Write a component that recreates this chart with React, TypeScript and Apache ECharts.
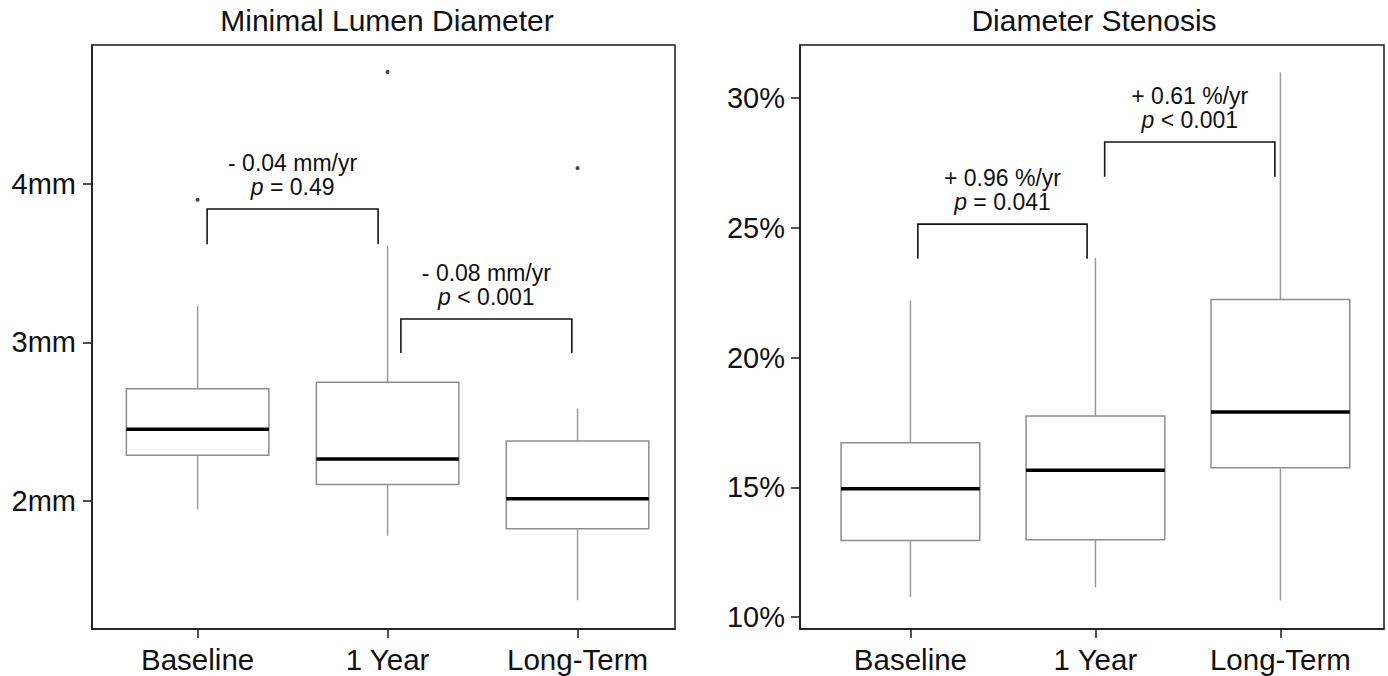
import React, { useEffect, useRef } from 'react';
import * as echarts from 'echarts';

const FONT = '"Liberation Sans", Arial, Helvetica, sans-serif';

const categories = ['Baseline', '1 Year', 'Long-Term'];
const categoryPositions = [1, 2, 3];

// Minimal Lumen Diameter (mm)
const mldLow = [1.946, 1.78, 1.373];
const mldQ1 = [2.289, 2.104, 1.824];
const mldMedian = [2.452, 2.265, 2.014];
const mldQ3 = [2.708, 2.749, 2.379];
const mldHigh = [3.23, 3.611, 2.583];
const mldOutlierX = [1, 2, 3];
const mldOutlierY = [3.9, 4.707, 4.1];
const mldTicks = [2, 3, 4];

// Diameter Stenosis (%)
const dsLow = [10.77, 11.14, 10.64];
const dsQ1 = [12.95, 12.98, 15.75];
const dsMedian = [14.94, 15.66, 17.9];
const dsQ3 = [16.72, 17.75, 22.23];
const dsHigh = [22.2, 23.84, 30.99];
const dsTicks = [10, 15, 20, 25, 30];

// Comparison brackets
const mldBracketFrom = [1.05, 2.07];
const mldBracketTo = [1.95, 2.97];
const mldBracketTop = [3.842, 3.148];
const mldBracketBottom = [3.62, 2.934];
const mldRate = ['- 0.04 mm/yr', '- 0.08 mm/yr'];
const mldP = ['= 0.49', '< 0.001'];

const dsBracketFrom = [1.04, 2.05];
const dsBracketTo = [1.955, 2.97];
const dsBracketTop = [25.14, 28.3];
const dsBracketBottom = [23.8, 26.96];
const dsRate = ['+ 0.96 %/yr', '+ 0.61 %/yr'];
const dsP = ['= 0.041', '< 0.001'];

const BOX_WIDTH = 0.75;
const ANN_SIZE = 23;

function boxRender(params: any, api: any) {
  const x = api.value(0);
  const lo = api.coord([x, api.value(1)]);
  const q1 = api.coord([x, api.value(2)]);
  const md = api.coord([x, api.value(3)]);
  const q3 = api.coord([x, api.value(4)]);
  const hi = api.coord([x, api.value(5)]);
  const half = api.size([BOX_WIDTH, 0])[0] / 2;
  const whisker = { stroke: '#9c9c9c', lineWidth: 1.5 };
  return {
    type: 'group',
    children: [
      { type: 'line', shape: { x1: lo[0], y1: lo[1], x2: lo[0], y2: q1[1] }, style: whisker },
      { type: 'line', shape: { x1: hi[0], y1: q3[1], x2: hi[0], y2: hi[1] }, style: whisker },
      {
        type: 'rect',
        shape: { x: q3[0] - half, y: q3[1], width: half * 2, height: q1[1] - q3[1] },
        style: { fill: '#ffffff', stroke: '#8e8e8e', lineWidth: 1.5 },
      },
      {
        type: 'line',
        shape: { x1: md[0] - half, y1: md[1], x2: md[0] + half, y2: md[1] },
        style: { stroke: '#000000', lineWidth: 3.5 },
      },
    ],
  };
}

function makeBracketRender(rates: string[], ps: string[]) {
  return (params: any, api: any) => {
    const x1 = api.value(0);
    const x2 = api.value(1);
    const top = api.value(2);
    const bot = api.value(3);
    const a = api.coord([x1, bot]);
    const b = api.coord([x1, top]);
    const c = api.coord([x2, top]);
    const d = api.coord([x2, bot]);
    const cx = (b[0] + c[0]) / 2;
    const i = params.dataIndex;
    return {
      type: 'group',
      children: [
        {
          type: 'polyline',
          shape: { points: [a, b, c, d] },
          style: { stroke: '#151515', lineWidth: 1.6, fill: 'none' },
        },
        {
          type: 'text',
          x: cx,
          y: b[1] - 46,
          style: {
            text: rates[i],
            fill: '#111',
            fontSize: ANN_SIZE,
            fontFamily: FONT,
            align: 'center',
            verticalAlign: 'middle',
          },
        },
        {
          type: 'text',
          x: cx,
          y: b[1] - 22,
          style: {
            text: '{i|p} ' + ps[i],
            fill: '#111',
            fontSize: ANN_SIZE,
            fontFamily: FONT,
            align: 'center',
            verticalAlign: 'middle',
            rich: {
              i: { fontStyle: 'italic', fontSize: ANN_SIZE, fontFamily: FONT, fill: '#111' },
            },
          },
        },
      ],
    };
  };
}

const axisColor = '#1a1a1a';

function xAxisFor(gridIndex: number, min: number, max: number) {
  return {
    type: 'value',
    gridIndex,
    min,
    max,
    axisLine: { show: true, onZero: false, lineStyle: { color: axisColor, width: 1.5 } },
    axisTick: {
      show: true,
      customValues: categoryPositions,
      length: 9,
      lineStyle: { color: axisColor, width: 1.5 },
    },
    axisLabel: {
      customValues: categoryPositions,
      formatter: (v: number) => categories[Math.round(v) - 1] ?? '',
      fontSize: 29.5,
      color: '#111',
      fontFamily: FONT,
      margin: 15,
    },
    splitLine: { show: false },
  };
}

function yAxisFor(gridIndex: number, min: number, max: number, ticks: number[], unit: string, margin: number) {
  return {
    type: 'value',
    gridIndex,
    min,
    max,
    axisLine: { show: true, onZero: false, lineStyle: { color: axisColor, width: 1.5 } },
    axisTick: { show: true, customValues: ticks, length: 9, lineStyle: { color: axisColor, width: 1.5 } },
    axisLabel: {
      customValues: ticks,
      formatter: (v: number) => `${v}${unit}`,
      fontSize: 29,
      color: '#111',
      fontFamily: FONT,
      margin,
    },
    splitLine: { show: false },
  };
}

export default function App() {
  const ref = useRef<HTMLDivElement>(null);

  useEffect(() => {
    if (!ref.current) return;
    const chart = echarts.init(ref.current, undefined, { renderer: 'svg' });

    const mldBoxes = categoryPositions.map((x, i) => [x, mldLow[i], mldQ1[i], mldMedian[i], mldQ3[i], mldHigh[i]]);
    const dsBoxes = categoryPositions.map((x, i) => [x, dsLow[i], dsQ1[i], dsMedian[i], dsQ3[i], dsHigh[i]]);
    const mldOutliers = mldOutlierX.map((x, i) => [x, mldOutlierY[i]]);
    const mldBrackets = mldBracketFrom.map((f, i) => [f, mldBracketTo[i], mldBracketTop[i], mldBracketBottom[i]]);
    const dsBrackets = dsBracketFrom.map((f, i) => [f, dsBracketTo[i], dsBracketTop[i], dsBracketBottom[i]]);

    const titleStyle = { fontSize: 30, fontWeight: 'normal', color: '#111', fontFamily: FONT };

    chart.setOption({
      animation: false,
      backgroundColor: '#ffffff',
      title: [
        { text: 'Minimal Lumen Diameter', left: 387, top: 5, textAlign: 'center', textStyle: titleStyle, padding: 0 },
        { text: 'Diameter Stenosis', left: 1094, top: 5, textAlign: 'center', textStyle: titleStyle, padding: 0 },
      ],
      grid: [
        { left: 92, top: 45, width: 583, height: 584, show: true, borderColor: axisColor, borderWidth: 1.5, containLabel: false },
        { left: 800, top: 45, width: 584, height: 584, show: true, borderColor: axisColor, borderWidth: 1.5, containLabel: false },
      ],
      xAxis: [xAxisFor(0, 0.444, 3.513), xAxisFor(1, 0.403, 3.56)],
      yAxis: [
        yAxisFor(0, 1.192, 4.877, mldTicks, 'mm', 16),
        yAxisFor(1, 9.54, 32.04, dsTicks, '%', 15),
      ],
      series: [
        {
          type: 'custom',
          xAxisIndex: 0,
          yAxisIndex: 0,
          data: mldBoxes,
          encode: { x: 0, y: [1, 2, 3, 4, 5] },
          renderItem: boxRender,
          silent: true,
        },
        {
          type: 'scatter',
          xAxisIndex: 0,
          yAxisIndex: 0,
          data: mldOutliers,
          symbolSize: 4,
          itemStyle: { color: '#111' },
          silent: true,
        },
        {
          type: 'custom',
          xAxisIndex: 0,
          yAxisIndex: 0,
          data: mldBrackets,
          encode: { x: [0, 1], y: [2, 3] },
          renderItem: makeBracketRender(mldRate, mldP),
          silent: true,
          clip: false,
        },
        {
          type: 'custom',
          xAxisIndex: 1,
          yAxisIndex: 1,
          data: dsBoxes,
          encode: { x: 0, y: [1, 2, 3, 4, 5] },
          renderItem: boxRender,
          silent: true,
        },
        {
          type: 'custom',
          xAxisIndex: 1,
          yAxisIndex: 1,
          data: dsBrackets,
          encode: { x: [0, 1], y: [2, 3] },
          renderItem: makeBracketRender(dsRate, dsP),
          silent: true,
          clip: false,
        },
      ],
    });

    return () => chart.dispose();
  }, []);

  return (
    <div
      ref={ref}
      style={{ position: 'fixed', left: 0, top: 0, width: 1388, height: 676, background: '#fff' }}
    />
  );
}
